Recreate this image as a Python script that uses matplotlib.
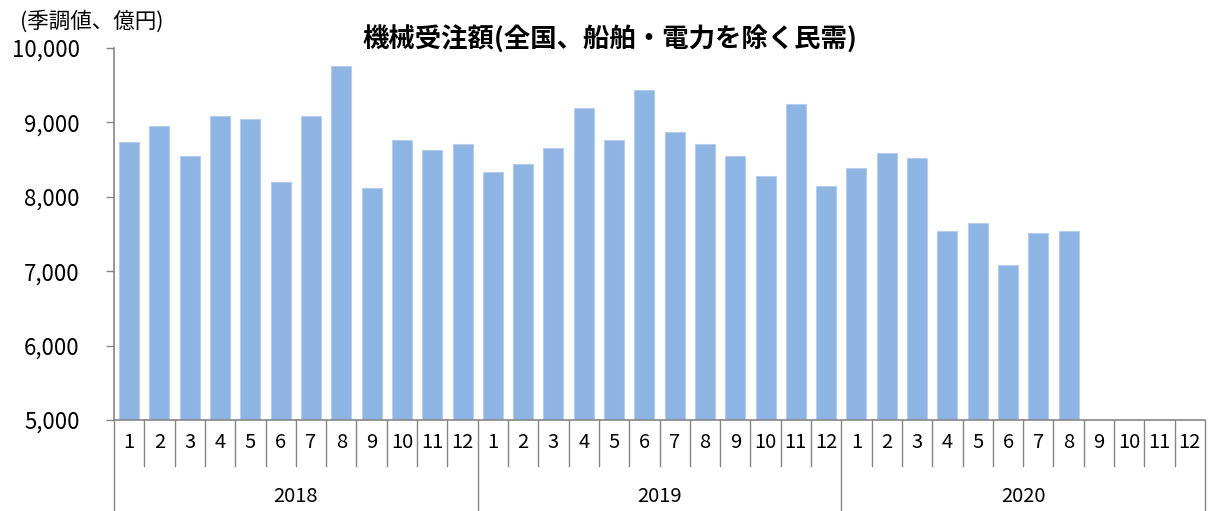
import numpy as np
import matplotlib
matplotlib.use("Agg")
import matplotlib.pyplot as plt
import matplotlib.transforms as mtransforms
from matplotlib.ticker import FuncFormatter

plt.rcParams['font.family'] = ['Noto Sans CJK JP', 'DejaVu Sans']

# data (seasonally adjusted, 100 million yen)
years = ["2018", "2019", "2020"]
months = [str(m) for m in range(1, 13)]
orders_2018 = [8741, 8956, 8553, 9090, 9041, 8203, 9090, 9762, 8123, 8768, 8633, 8714]
orders_2019 = [8338, 8445, 8660, 9198, 8768, 9440, 8875, 8714, 8553, 8284, 9251, 8149]
orders_2020 = [8393, 8582, 8528, 7536, 7643, 7079, 7509, 7536, np.nan, np.nan, np.nan, np.nan]

values = orders_2018 + orders_2019 + orders_2020
n = len(values)
x = np.arange(n)

fig = plt.figure(figsize=(12.14, 5.11), dpi=100)
ax = fig.add_axes([114/1214, 1 - 420/511, (1205 - 114)/1214, 372/511])

ax.bar(x, values, width=0.66, color='#8EB4E3', edgecolor='#B4CDEE', linewidth=0.8, zorder=2)

ax.set_xlim(-0.5, n - 0.5)
ax.set_ylim(5000, 10000)
ax.set_yticks(range(5000, 10001, 1000))
ax.yaxis.set_major_formatter(FuncFormatter(lambda v, p: f"{int(v):,}"))
ax.tick_params(axis='y', length=5.8, width=1, color='#868686', labelsize=16, pad=19)
ax.set_xticks([])

for s in ['top', 'right']:
    ax.spines[s].set_visible(False)
for s in ['left', 'bottom']:
    ax.spines[s].set_color('#868686')
    ax.spines[s].set_linewidth(1.2)

# category axis: month labels, separators, year labels
trans = mtransforms.blended_transform_factory(ax.transData, ax.transAxes)
month_bottom = -46 / 372
year_bottom = -92 / 372
for k in range(n + 1):
    ybot = year_bottom if k % 12 == 0 else month_bottom
    ax.plot([k - 0.5, k - 0.5], [0, ybot], transform=trans, color='#868686',
            lw=1.0, clip_on=False)
for i in range(n):
    ax.text(i, -22 / 372, months[i % 12], transform=trans, ha='center', va='center',
            fontsize=14.5)
for j, yr in enumerate(years):
    ax.text(j * 12 + 5.5, -77 / 372, yr, transform=trans, ha='center', va='center',
            fontsize=14.5)

fig.text(20 / 1214, 1 - 22 / 511, "(季調値、億円)", fontsize=15.5, ha='left', va='center')
fig.text(610 / 1214, 1 - 40 / 511, "機械受注額(全国、船舶・電力を除く民需)", fontsize=19,
         fontweight='bold', ha='center', va='center')

fig.savefig("out.png", dpi=100)
